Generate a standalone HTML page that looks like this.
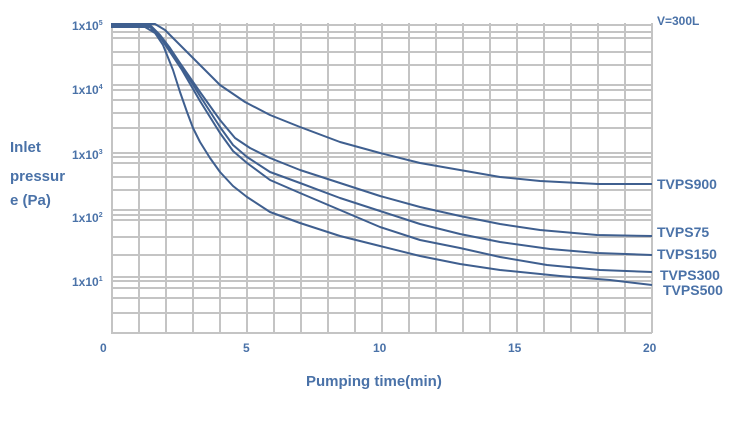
<!DOCTYPE html>
<html><head><style>body{margin:0;background:#fff}svg{display:block}</style></head><body>
<svg width="750" height="421" xmlns="http://www.w3.org/2000/svg" font-family="Liberation Sans, sans-serif">
<g stroke="#c4c4c4" stroke-width="2">
<line x1="112" y1="23" x2="112" y2="333"/><line x1="139" y1="23" x2="139" y2="333"/><line x1="166" y1="23" x2="166" y2="333"/><line x1="193" y1="23" x2="193" y2="333"/><line x1="220" y1="23" x2="220" y2="333"/><line x1="247" y1="23" x2="247" y2="333"/><line x1="274" y1="23" x2="274" y2="333"/><line x1="301" y1="23" x2="301" y2="333"/><line x1="328" y1="23" x2="328" y2="333"/><line x1="355" y1="23" x2="355" y2="333"/><line x1="382" y1="23" x2="382" y2="333"/><line x1="409" y1="23" x2="409" y2="333"/><line x1="436" y1="23" x2="436" y2="333"/><line x1="463" y1="23" x2="463" y2="333"/><line x1="490" y1="23" x2="490" y2="333"/><line x1="517" y1="23" x2="517" y2="333"/><line x1="544" y1="23" x2="544" y2="333"/><line x1="571" y1="23" x2="571" y2="333"/><line x1="598" y1="23" x2="598" y2="333"/><line x1="625" y1="23" x2="625" y2="333"/><line x1="652" y1="23" x2="652" y2="333"/>
<line x1="111" y1="25" x2="652" y2="25"/><line x1="111" y1="32" x2="652" y2="32"/><line x1="111" y1="38" x2="652" y2="38"/><line x1="111" y1="52" x2="652" y2="52"/><line x1="111" y1="65" x2="652" y2="65"/>
<line x1="111" y1="85" x2="652" y2="85"/><line x1="111" y1="90" x2="652" y2="90"/><line x1="111" y1="100" x2="652" y2="100"/><line x1="111" y1="113" x2="652" y2="113"/><line x1="111" y1="128" x2="652" y2="128"/>
<line x1="111" y1="153" x2="652" y2="153"/><line x1="111" y1="157" x2="652" y2="157"/><line x1="111" y1="163" x2="652" y2="163"/><line x1="111" y1="177" x2="652" y2="177"/><line x1="111" y1="190" x2="652" y2="190"/>
<line x1="111" y1="210" x2="652" y2="210"/><line x1="111" y1="215" x2="652" y2="215"/><line x1="111" y1="220" x2="652" y2="220"/><line x1="111" y1="237" x2="652" y2="237"/><line x1="111" y1="255" x2="652" y2="255"/>
<line x1="111" y1="277" x2="652" y2="277"/><line x1="111" y1="281" x2="652" y2="281"/><line x1="111" y1="288" x2="652" y2="288"/><line x1="111" y1="298" x2="652" y2="298"/><line x1="111" y1="313" x2="652" y2="313"/>
<line x1="111" y1="333" x2="652" y2="333"/>
</g>
<g fill="none" stroke="#3f5f8f" stroke-width="2" stroke-linejoin="round">
<polyline points="111,24 155,24 165,30 180,45 200,65 220,85 245,102 270,115 300,127 340,142 380,153 420,163 460,170 500,177 540,181 598,184 652,184"/>
<polyline points="111,25 150,25 160,35 170,48 180,63 200,92 220,120 235,138 250,148 270,158 300,170 340,183 380,196 420,207 460,216 500,224 540,230 597,235 652,236"/>
<polyline points="111,26 150,26 162,38 172,52 182,67 200,96 220,127 233,145 247,157 270,172 300,183 340,198 380,211 420,224 460,234 500,242 550,249 597,253 652,255"/>
<polyline points="111,27 150,27 162,40 172,55 182,70 200,101 220,133 233,151 247,163 270,180 300,193 340,210 380,227 420,240 460,248 500,257 547,265 600,270 652,272"/>
<polyline points="111,27 145,27 155,33 163,45 173,70 180,92 187,112 193,128 200,142 210,158 220,172 233,186 247,197 270,212 300,223 340,236 380,246 420,256 460,264 500,270 560,276 610,280 652,285"/>
</g>
<g fill="#4a72a8" font-size="12" font-weight="bold">
<text x="72" y="30">1x10<tspan font-size="7" dy="-5">5</tspan></text>
<text x="72" y="94">1x10<tspan font-size="7" dy="-5">4</tspan></text>
<text x="72" y="159">1x10<tspan font-size="7" dy="-5">3</tspan></text>
<text x="72" y="222">1x10<tspan font-size="7" dy="-5">2</tspan></text>
<text x="72" y="286">1x10<tspan font-size="7" dy="-5">1</tspan></text>
<text x="100" y="352">0</text><text x="243" y="352">5</text><text x="373" y="352">10</text><text x="508" y="352">15</text><text x="643" y="352">20</text>
<text x="657" y="25" font-size="12">V=300L</text>
</g>
<g fill="#4a72a8" font-weight="bold" font-size="15">
<text x="10" y="152">Inlet</text>
<text x="10" y="181">pressur</text>
<text x="10" y="205">e (Pa)</text>
<text x="306" y="386">Pumping time(min)</text>
<text x="657" y="189" font-size="14">TVPS900</text>
<text x="657" y="237" font-size="14">TVPS75</text>
<text x="657" y="259" font-size="14">TVPS150</text>
<text x="660" y="280" font-size="14">TVPS300</text>
<text x="663" y="295" font-size="14">TVPS500</text>
</g>
</svg>
</body></html>
